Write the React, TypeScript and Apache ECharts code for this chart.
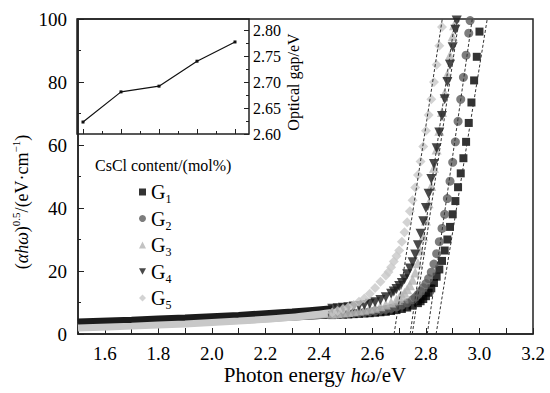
import React, { useEffect, useRef } from 'react';
import * as echarts from 'echarts';

const FONT = '"Liberation Serif", "Times New Roman", "DejaVu Serif", serif';

const groupNames = ['G1', 'G2', 'G3', 'G4', 'G5'];
const groupColors = ['#000000', '#5c5c5c', '#b4b4b4', '#1c1c1c', '#c8c8c8'];
const groupSymbols = ['rect', 'circle', 'triangle', 'path://M0,0L10,0L5,9Z', 'diamond'];
const groupSymbolSizes = [8, 9, 10, 10, 10];

// low-energy (flat) part: [photon energy eV, (αhω)^0.5]
const g1Band = [[1.5, 3.5], [1.7, 3.9], [1.9, 4.4], [2.1, 4.9], [2.3, 5.5], [2.45, 6.0]];
const g2Band = [[1.5, 3.2], [1.7, 3.6], [1.9, 4.1], [2.1, 4.7], [2.3, 5.4], [2.45, 6.2]];
const g3Band = [[1.5, 2.5], [1.7, 3.0], [1.9, 3.6], [2.1, 4.3], [2.3, 5.3], [2.45, 6.4]];
const g4Band = [[1.5, 3.8], [1.7, 4.4], [1.9, 5.1], [2.1, 5.9], [2.3, 7.0], [2.45, 8.0]];
const g5Band = [[1.5, 1.9], [1.7, 2.5], [1.9, 3.2], [2.1, 4.1], [2.3, 5.3], [2.45, 6.8]];

// absorption edge markers
const g1Edge = [[2.45, 6.0], [2.47, 6.1], [2.49, 6.15], [2.51, 6.2], [2.53, 6.3], [2.55, 6.4], [2.57, 6.5], [2.59, 6.6], [2.61, 6.75], [2.63, 6.9], [2.65, 7.05], [2.67, 7.3], [2.69, 7.6], [2.71, 7.95], [2.73, 8.4], [2.75, 9.0], [2.77, 9.8], [2.78, 10.4], [2.79, 11.1], [2.8, 12.0], [2.81, 13.1], [2.82, 14.5], [2.83, 16.2], [2.84, 18.2], [2.85, 20.5], [2.86, 23.2], [2.87, 26.5], [2.88, 30], [2.89, 34], [2.9, 38], [2.91, 42.2], [2.92, 46.6], [2.93, 51], [2.94, 55.8], [2.95, 61], [2.96, 67], [2.97, 73.5], [2.98, 80.5], [2.99, 88], [3.0, 96], [3.005, 100.3]];
const g2Edge = [[2.45, 6.2], [2.47, 6.3], [2.49, 6.4], [2.51, 6.5], [2.53, 6.6], [2.55, 6.8], [2.57, 6.9], [2.59, 7.1], [2.61, 7.3], [2.63, 7.55], [2.65, 7.8], [2.67, 8.15], [2.69, 8.6], [2.71, 9.2], [2.73, 9.9], [2.75, 10.9], [2.76, 11.6], [2.77, 12.5], [2.78, 13.5], [2.79, 14.7], [2.8, 16.0], [2.81, 17.6], [2.82, 19.6], [2.83, 22.2], [2.84, 25.5], [2.85, 29.3], [2.86, 33.5], [2.87, 38], [2.88, 43], [2.89, 48.5], [2.9, 54.5], [2.91, 61], [2.92, 67.5], [2.93, 74.5], [2.94, 81.5], [2.95, 88.5], [2.96, 95.5], [2.965, 99.5]];
const g3Edge = [[2.45, 6.4], [2.47, 6.6], [2.49, 6.8], [2.51, 7.0], [2.53, 7.2], [2.55, 7.45], [2.57, 7.7], [2.59, 8.0], [2.61, 8.35], [2.63, 8.8], [2.65, 9.35], [2.67, 10.0], [2.69, 10.9], [2.7, 11.5], [2.71, 12.2], [2.72, 13.1], [2.73, 14.2], [2.74, 15.5], [2.75, 17.2], [2.76, 19.5], [2.77, 22.5], [2.78, 26.5], [2.79, 31], [2.8, 36], [2.81, 41.5], [2.82, 47], [2.83, 52.8], [2.84, 58.6], [2.85, 64.5], [2.86, 70.5], [2.87, 76.5], [2.88, 82.5], [2.89, 88.5], [2.9, 94.5], [2.905, 98], [2.91, 100.5]];
const g4Edge = [[2.45, 8.0], [2.47, 8.15], [2.49, 8.3], [2.51, 8.5], [2.53, 8.7], [2.55, 8.9], [2.57, 9.2], [2.59, 9.6], [2.61, 10.1], [2.63, 10.8], [2.65, 11.7], [2.67, 12.8], [2.68, 13.5], [2.69, 14.3], [2.7, 15.2], [2.71, 16.2], [2.72, 17.4], [2.73, 19.0], [2.74, 20.8], [2.75, 22.8], [2.76, 25.2], [2.77, 28.2], [2.78, 31.8], [2.79, 35.8], [2.8, 40], [2.81, 44.5], [2.82, 49.2], [2.83, 54], [2.84, 59], [2.85, 64], [2.86, 69.2], [2.87, 74.5], [2.88, 80], [2.89, 85.5], [2.9, 91], [2.91, 96.6], [2.915, 99.5]];
const g5Edge = [[2.45, 6.8], [2.47, 7.3], [2.49, 7.9], [2.51, 8.5], [2.53, 9.2], [2.55, 10.2], [2.57, 11.3], [2.59, 12.8], [2.61, 14.6], [2.63, 16.6], [2.65, 18.6], [2.66, 19.7], [2.67, 21.2], [2.68, 23.0], [2.69, 24.8], [2.7, 26.5], [2.71, 29.3], [2.72, 32.3], [2.73, 35.5], [2.74, 39], [2.75, 42.5], [2.76, 46.5], [2.77, 50.5], [2.78, 54.8], [2.79, 59.5], [2.8, 64.5], [2.81, 69.5], [2.82, 74.5], [2.83, 80], [2.84, 85.5], [2.85, 91.5], [2.86, 97.5], [2.865, 100.5]];

// linear extrapolation (Tauc) lines
const g1Tangent = [[2.838, 0], [3.029, 100]];
const g2Tangent = [[2.805, 0], [2.973, 100]];
const g3Tangent = [[2.741, 0], [2.909, 100]];
const g4Tangent = [[2.749, 0], [2.924, 100]];
const g5Tangent = [[2.681, 0], [2.861, 100]];

// inset: optical gap of each sample
const insetSample = [1, 2, 3, 4, 5];
const opticalGap = [2.623, 2.681, 2.692, 2.74, 2.777];

const bands = [g1Band, g2Band, g3Band, g4Band, g5Band];
const edges = [g1Edge, g2Edge, g3Edge, g4Edge, g5Edge];
const tangents = [g1Tangent, g2Tangent, g3Tangent, g4Tangent, g5Tangent];

export default function App() {
  const ref = useRef<HTMLDivElement>(null);
  useEffect(() => {
    if (!ref.current) return;
    const chart = echarts.init(ref.current, null, { renderer: 'svg' });
    const bandSeries = bands.map((d, i) => ({
      name: groupNames[i] + '-band',
      type: 'line',
      data: d,
      showSymbol: false,
      symbol: 'none',
      smooth: 0.3,
      lineStyle: { color: groupColors[i], width: 7 },
      z: 2,
      silent: true,
    }));
    const edgeSeries = edges.map((d, i) => ({
      name: groupNames[i],
      type: 'scatter',
      data: d,
      symbol: groupSymbols[i],
      symbolSize: groupSymbolSizes[i],
      itemStyle: { color: groupColors[i] },
      z: 3,
    }));
    const tangentSeries = tangents.map((d, i) => ({
      name: groupNames[i] + '-fit',
      type: 'line',
      data: d,
      symbol: 'none',
      lineStyle: { color: '#333', width: 1, type: [3, 2] },
      z: 4,
      silent: true,
    }));
    const option = {
      animation: false,
      backgroundColor: '#ffffff',
      textStyle: { fontFamily: FONT },
      grid: [
        { left: 78, right: 17, top: 19, bottom: 59, show: true, borderColor: '#222', borderWidth: 1.5, backgroundColor: 'transparent' },
        { left: 83, width: 152, top: 30, height: 104 },
      ],
      xAxis: [
        {
          type: 'value', gridIndex: 0, min: 1.5, max: 3.2, interval: 0.1,
          axisLine: { show: true, lineStyle: { color: '#222', width: 1.5 } },
          axisTick: { show: true, inside: true, length: 6, lineStyle: { color: '#222' } },
          splitLine: { show: false },
          axisLabel: {
            interval: 0, margin: 10, color: '#000', fontSize: 19, fontFamily: FONT,
            formatter: (v: number) => (Math.round(v * 10) % 2 === 0 ? v.toFixed(1) : ''),
          },
        },
        {
          type: 'value', gridIndex: 1, min: 1, max: 5, interval: 1,
          axisLine: { show: false },
          axisTick: { show: true, inside: true, length: 5, lineStyle: { color: '#222' } },
          minorTick: { show: true, splitNumber: 2, length: 3, lineStyle: { color: '#222' } },
          splitLine: { show: false },
          axisLabel: { show: false },
        },
      ],
      yAxis: [
        {
          type: 'value', gridIndex: 0, min: 0, max: 100, interval: 20,
          axisLine: { show: true, lineStyle: { color: '#222', width: 1.5 } },
          axisTick: { show: true, inside: true, length: 6, lineStyle: { color: '#222' } },
          minorTick: { show: true, splitNumber: 2, length: 3, lineStyle: { color: '#222' } },
          splitLine: { show: false },
          axisLabel: { margin: 11, color: '#000', fontSize: 19, fontFamily: FONT },
        },
        {
          type: 'value', gridIndex: 1, position: 'right', offset: 14, min: 2.6, max: 2.8, interval: 0.05,
          axisLine: { show: false },
          axisTick: { show: true, inside: true, length: 5, lineStyle: { color: '#222' } },
          minorTick: { show: true, splitNumber: 2, length: 3, lineStyle: { color: '#222' } },
          splitLine: { show: false },
          axisLabel: { margin: 4, color: '#000', fontSize: 16, fontFamily: FONT, formatter: (v: number) => v.toFixed(2) },
          name: 'Optical gap/eV',
          nameLocation: 'middle',
          nameRotate: 90,
          nameGap: 36,
          nameTextStyle: { color: '#000', fontSize: 16, fontFamily: FONT },
        },
      ],
      legend: {
        orient: 'vertical',
        left: 139,
        top: 179,
        padding: 0,
        itemGap: 0.5,
        itemWidth: 7,
        itemHeight: 7,
        itemTextGap: 14,
        selectedMode: false,
        data: groupNames,
        formatter: (n: string) => `G{sub|${n.slice(1)}}`,
        textStyle: {
          color: '#000', fontSize: 20, fontFamily: FONT, lineHeight: 26,
          rich: { sub: { fontSize: 12, lineHeight: 12, verticalAlign: 'bottom', fontFamily: FONT, color: '#000' } },
        },
      },
      graphic: [
        {
          type: 'rect', shape: { x: 77, y: 19, width: 172, height: 115 },
          style: { fill: 'none', stroke: '#222', lineWidth: 1.5 }, z: 10, silent: true,
        },
        {
          type: 'text', x: 95, y: 165,
          style: { text: 'CsCl content/(mol%)', fill: '#000', fontSize: 16, fontFamily: FONT, textAlign: 'left', textVerticalAlign: 'middle', align: 'left', verticalAlign: 'middle' },
        },
        {
          type: 'text', x: 315, y: 375,
          style: {
            text: 'Photon energy {i|hω}/eV', fill: '#000', fontSize: 21, fontFamily: FONT,
            textAlign: 'center', textVerticalAlign: 'middle', align: 'center', verticalAlign: 'middle',
            rich: { i: { fontStyle: 'italic', fontSize: 21, fontFamily: FONT, fill: '#000' } },
          },
        },
        {
          type: 'text', x: 22, y: 202, rotation: Math.PI / 2,
          style: {
            text: '({i|αhω}){sup|0.5}/(eV·cm{sup|−1})', fill: '#000', fontSize: 18, fontFamily: FONT, lineHeight: 23,
            textAlign: 'center', textVerticalAlign: 'middle', align: 'center', verticalAlign: 'middle',
            rich: {
              i: { fontStyle: 'italic', fontSize: 18, fontFamily: FONT, fill: '#000', lineHeight: 23 },
              sup: { fontSize: 11, fontFamily: FONT, fill: '#000', lineHeight: 11, verticalAlign: 'top' },
            },
          },
        },
      ],
      series: [
        ...bandSeries,
        ...edgeSeries,
        ...tangentSeries,
        {
          name: 'Optical gap',
          type: 'line',
          xAxisIndex: 1,
          yAxisIndex: 1,
          data: insetSample.map((s, i) => [s, opticalGap[i]]),
          symbol: 'rect',
          symbolSize: 3,
          lineStyle: { color: '#111', width: 1.2 },
          itemStyle: { color: '#111' },
          z: 5,
        },
      ],
    };
    chart.setOption(option as any);
    return () => chart.dispose();
  }, []);
  return <div ref={ref} style={{ position: 'fixed', left: 0, top: 0, width: 550, height: 393 }} />;
}
